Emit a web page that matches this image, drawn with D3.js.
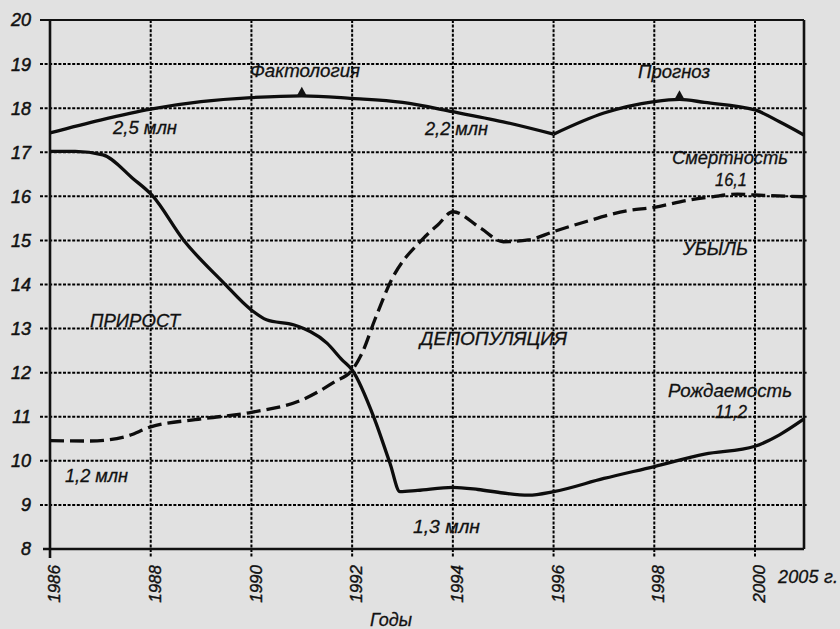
<!DOCTYPE html>
<html><head><meta charset="utf-8">
<script src="https://cdn.jsdelivr.net/npm/d3@7"></script>
<style>
html,body{margin:0;padding:0;background:#e1e1e1;}
svg{display:block;}
text{font-family:"Liberation Sans",Arial,sans-serif;font-style:italic;fill:#111;}
</style></head><body>
<svg id="c" width="840" height="629"></svg>
<script>
// Tick labels
const yTicks = [8,9,10,11,12,13,14,15,16,17,18,19,20];
const xTicks = [1986,1988,1990,1992,1994,1996,1998,2000];
// Upper curve (population estimate): factual part and forecast part
const factYears = [1986,1987,1988,1989,1990,1991,1992,1993,1994,1995,1996];
const factVals  = [17.44,17.73,17.98,18.15,18.24,18.28,18.22,18.13,17.92,17.69,17.41];
const foreYears = [1996,1997,1998,1998.5,1999,2000,2002.5,2005];
const foreVals  = [17.41,17.89,18.15,18.2,18.13,17.96,17.69,17.39];
// Birth rate (solid)
const birthYears = [1986,1986.5,1987.05,1987.65,1988.03,1988.65,1989.43,1990,1990.3,1990.85,1991.5,1991.8,1992,1992.45,1992.75,1992.95,1993.3,1994,1994.5,1995,1995.5,1996,1997,1998,1999,2000,2002.5,2005];
const birthVals  = [17.02,17.02,16.94,16.4,16.02,15.01,14.06,13.42,13.2,13.08,12.67,12.29,12.06,10.93,9.95,9.3,9.33,9.4,9.35,9.27,9.22,9.3,9.6,9.87,10.15,10.33,10.59,10.95];
// Death rate (dashed)
const deathYears = [1986,1986.8,1987.5,1988,1989,1990,1991,1991.65,1992,1992.2,1992.45,1992.78,1993.4,1993.7,1994,1994.55,1995,1995.5,1996,1996.65,1997.45,1998,1998.7,1999.15,1999.65,2000,2005];
const deathVals  = [10.46,10.45,10.55,10.77,10.95,11.1,11.38,11.79,12.06,12.45,13.2,14.1,15.03,15.35,15.65,15.28,14.97,15.01,15.2,15.43,15.67,15.75,15.92,15.99,16.05,16.03,15.99];
// Marker positions (triangles)
const markerYears = [1991,1998.5];
const markerVals  = [18.28,18.2];

const svg = d3.select("#c");
const x = d3.scaleLinear().domain([1986,2000,2005]).range([50,755,804]);
const y = d3.scaleLinear().domain([8,20]).range([549,20]);

const g = svg.append("g");
// horizontal grid
g.selectAll(".hg").data(yTicks.filter(v=>v>8&&v<20)).enter().append("line")
 .attr("x1",40).attr("x2",808).attr("y1",d=>y(d)).attr("y2",d=>y(d))
 .attr("stroke","#000").attr("stroke-width",2).attr("stroke-dasharray","3,1.6");
// vertical grid
g.selectAll(".vg").data(xTicks.filter(v=>v>1986)).enter().append("line")
 .attr("x1",d=>x(d)).attr("x2",d=>x(d)).attr("y1",y(20)).attr("y2",558)
 .attr("stroke","#000").attr("stroke-width",2).attr("stroke-dasharray","3,1.6");
// frame
g.append("line").attr("x1",40).attr("x2",x(2005)).attr("y1",y(20)).attr("y2",y(20)).attr("stroke","#111").attr("stroke-width",2.2);
g.append("line").attr("x1",43).attr("x2",x(2005)).attr("y1",y(8)).attr("y2",y(8)).attr("stroke","#111").attr("stroke-width",2.6);
g.append("line").attr("x1",x(1986)).attr("x2",x(1986)).attr("y1",y(20)).attr("y2",558).attr("stroke","#111").attr("stroke-width",2.6);
g.append("line").attr("x1",x(2005)).attr("x2",x(2005)).attr("y1",y(20)).attr("y2",y(8)).attr("stroke","#111").attr("stroke-width",2.6);

// y labels
g.selectAll(".yl").data(yTicks).enter().append("text")
 .attr("x",31).attr("y",d=>y(d)).attr("dy","0.36em").attr("text-anchor","end")
 .attr("font-size",18).attr("stroke","#111").attr("stroke-width",0.5).text(d=>d);
// x labels
g.selectAll(".xl").data(xTicks).enter().append("text")
 .attr("transform",d=>`translate(${x(d)+4},565) rotate(-90)`).attr("dy","0.36em").attr("text-anchor","end")
 .attr("font-size",17).attr("stroke","#111").attr("stroke-width",0.4).text(d=>d);
g.append("text").attr("x",778).attr("y",583).attr("font-size",18).attr("textLength",60)
 .attr("stroke","#111").attr("stroke-width",0.3).text("2005 г.");
g.append("text").attr("x",370).attr("y",626).attr("font-size",18).attr("textLength",42)
 .attr("stroke","#111").attr("stroke-width",0.3).text("Годы");

const line = d3.line().x(d=>x(d[0])).y(d=>y(d[1])).curve(d3.curveMonotoneX);
const zip=(a,b)=>a.map((v,i)=>[v,b[i]]);
const curves = svg.append("g").attr("fill","none").attr("stroke","#0d0d0d").attr("stroke-width",3.3).attr("stroke-linejoin","round");
curves.append("path").attr("d",line(zip(factYears,factVals)));
curves.append("path").attr("d",line(zip(foreYears,foreVals)));
curves.append("path").attr("d",line(zip(birthYears,birthVals)));
curves.append("path").attr("d",line(zip(deathYears,deathVals))).attr("stroke-dasharray","14,6");

// triangle markers
svg.selectAll(".tri").data(zip(markerYears,markerVals)).enter().append("path")
 .attr("d",d=>{const px=x(d[0]),py=y(d[1]);return `M${px-5.5},${py+1}L${px},${py-9}L${px+5.5},${py+1}Z`;})
 .attr("fill","#111");

// annotations
const notes = [
 ["Фактология",250,77,110],["Прогноз",638,78,72],["2,5 млн",113,134,64],["2,2 млн",425,135,63],
 ["Смертность",672,164,116],["16,1",715,186,32],["УБЫЛЬ",683,255,65],["ПРИРОСТ",90,327,90],
 ["ДЕПОПУЛЯЦИЯ",420,345,147],["Рождаемость",668,397,124],["11,2",715,418,32],
 ["1,2 млн",65,482,63],["1,3 млн",413,533,67]
];
svg.selectAll(".nt").data(notes).enter().append("text")
 .attr("x",d=>d[1]).attr("y",d=>d[2]).attr("font-size",18.5).attr("textLength",d=>d[3])
 .attr("lengthAdjust","spacingAndGlyphs").attr("stroke","#111").attr("stroke-width",0.3).text(d=>d[0]);
</script></body></html>
